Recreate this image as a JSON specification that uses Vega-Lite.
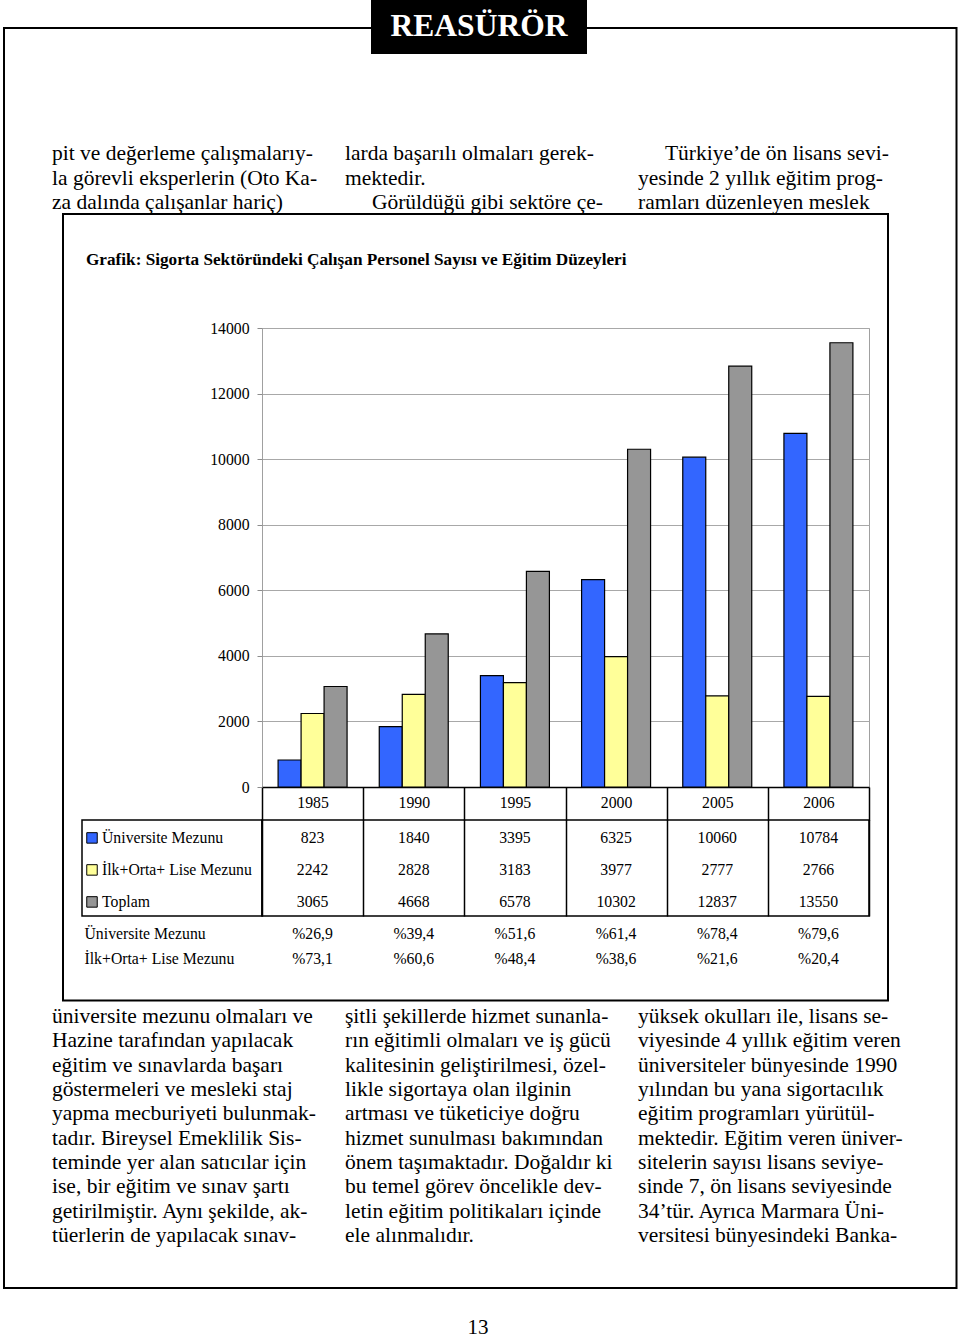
{
  "$schema": "https://vega.github.io/schema/vega-lite/v6.json",
  "padding": 0,
  "background": "white",
  "config": {
    "view": {"stroke": null},
    "font": "Liberation Serif",
    "axis": {"labelFont": "Liberation Serif", "labelColor": "black"}
  },
  "datasets": {
    "bars": [
      {"year": "1985", "series": "Üniversite Mezunu", "value": 823},
      {"year": "1990", "series": "Üniversite Mezunu", "value": 1840},
      {"year": "1995", "series": "Üniversite Mezunu", "value": 3395},
      {"year": "2000", "series": "Üniversite Mezunu", "value": 6325},
      {"year": "2005", "series": "Üniversite Mezunu", "value": 10060},
      {"year": "2006", "series": "Üniversite Mezunu", "value": 10784},
      {"year": "1985", "series": "İlk+Orta+ Lise Mezunu", "value": 2242},
      {"year": "1990", "series": "İlk+Orta+ Lise Mezunu", "value": 2828},
      {"year": "1995", "series": "İlk+Orta+ Lise Mezunu", "value": 3183},
      {"year": "2000", "series": "İlk+Orta+ Lise Mezunu", "value": 3977},
      {"year": "2005", "series": "İlk+Orta+ Lise Mezunu", "value": 2777},
      {"year": "2006", "series": "İlk+Orta+ Lise Mezunu", "value": 2766},
      {"year": "1985", "series": "Toplam", "value": 3065},
      {"year": "1990", "series": "Toplam", "value": 4668},
      {"year": "1995", "series": "Toplam", "value": 6578},
      {"year": "2000", "series": "Toplam", "value": 10302},
      {"year": "2005", "series": "Toplam", "value": 12837},
      {"year": "2006", "series": "Toplam", "value": 13550}
    ],
    "keys": [
      {"series": "Üniversite Mezunu"},
      {"series": "İlk+Orta+ Lise Mezunu"},
      {"series": "Toplam"}
    ],
    "pct": [
      {"year": "1985", "row": "Üniversite Mezunu", "pct": "%26,9"},
      {"year": "1990", "row": "Üniversite Mezunu", "pct": "%39,4"},
      {"year": "1995", "row": "Üniversite Mezunu", "pct": "%51,6"},
      {"year": "2000", "row": "Üniversite Mezunu", "pct": "%61,4"},
      {"year": "2005", "row": "Üniversite Mezunu", "pct": "%78,4"},
      {"year": "2006", "row": "Üniversite Mezunu", "pct": "%79,6"},
      {"year": "1985", "row": "İlk+Orta+ Lise Mezunu", "pct": "%73,1"},
      {"year": "1990", "row": "İlk+Orta+ Lise Mezunu", "pct": "%60,6"},
      {"year": "1995", "row": "İlk+Orta+ Lise Mezunu", "pct": "%48,4"},
      {"year": "2000", "row": "İlk+Orta+ Lise Mezunu", "pct": "%38,6"},
      {"year": "2005", "row": "İlk+Orta+ Lise Mezunu", "pct": "%21,6"},
      {"year": "2006", "row": "İlk+Orta+ Lise Mezunu", "pct": "%20,4"}
    ],
    "top": [
      {"col": 1, "line": 1, "text": "pit ve değerleme çalışmalarıy-"},
      {"col": 1, "line": 2, "text": "la görevli eksperlerin (Oto Ka-"},
      {"col": 1, "line": 3, "text": "za dalında çalışanlar hariç)"},
      {"col": 2, "line": 1, "text": "larda başarılı olmaları gerek-"},
      {"col": 2, "line": 2, "text": "mektedir."},
      {"col": 2, "line": 3, "text": "\u200b\u00a0\u00a0\u00a0\u00a0\u00a0Görüldüğü gibi sektöre çe-"},
      {"col": 3, "line": 1, "text": "\u200b\u00a0\u00a0\u00a0\u00a0\u00a0Türkiye’de ön lisans sevi-"},
      {"col": 3, "line": 2, "text": "yesinde 2 yıllık eğitim prog-"},
      {"col": 3, "line": 3, "text": "ramları düzenleyen meslek"}
    ],
    "bottom": [
      {"col": 1, "line": 1, "text": "üniversite mezunu olmaları ve"},
      {"col": 1, "line": 2, "text": "Hazine tarafından yapılacak"},
      {"col": 1, "line": 3, "text": "eğitim ve sınavlarda başarı"},
      {"col": 1, "line": 4, "text": "göstermeleri ve mesleki staj"},
      {"col": 1, "line": 5, "text": "yapma mecburiyeti bulunmak-"},
      {"col": 1, "line": 6, "text": "tadır. Bireysel Emeklilik Sis-"},
      {"col": 1, "line": 7, "text": "teminde yer alan satıcılar için"},
      {"col": 1, "line": 8, "text": "ise, bir eğitim ve sınav şartı"},
      {"col": 1, "line": 9, "text": "getirilmiştir. Aynı şekilde, ak-"},
      {"col": 1, "line": 10, "text": "tüerlerin de yapılacak sınav-"},
      {"col": 2, "line": 1, "text": "şitli şekillerde hizmet sunanla-"},
      {"col": 2, "line": 2, "text": "rın eğitimli olmaları ve iş gücü"},
      {"col": 2, "line": 3, "text": "kalitesinin geliştirilmesi, özel-"},
      {"col": 2, "line": 4, "text": "likle sigortaya olan ilginin"},
      {"col": 2, "line": 5, "text": "artması ve tüketiciye doğru"},
      {"col": 2, "line": 6, "text": "hizmet sunulması bakımından"},
      {"col": 2, "line": 7, "text": "önem taşımaktadır. Doğaldır ki"},
      {"col": 2, "line": 8, "text": "bu temel görev öncelikle dev-"},
      {"col": 2, "line": 9, "text": "letin eğitim politikaları içinde"},
      {"col": 2, "line": 10, "text": "ele alınmalıdır."},
      {"col": 3, "line": 1, "text": "yüksek okulları ile, lisans se-"},
      {"col": 3, "line": 2, "text": "viyesinde 4 yıllık eğitim veren"},
      {"col": 3, "line": 3, "text": "üniversiteler bünyesinde 1990"},
      {"col": 3, "line": 4, "text": "yılından bu yana sigortacılık"},
      {"col": 3, "line": 5, "text": "eğitim programları yürütül-"},
      {"col": 3, "line": 6, "text": "mektedir. Eğitim veren üniver-"},
      {"col": 3, "line": 7, "text": "sitelerin sayısı lisans seviye-"},
      {"col": 3, "line": 8, "text": "sinde 7, ön lisans seviyesinde"},
      {"col": 3, "line": 9, "text": "34’tür. Ayrıca Marmara Üni-"},
      {"col": 3, "line": 10, "text": "versitesi bünyesindeki Banka-"}
    ]
  },
  "spacing": 0,
  "bounds": "flush",
  "vconcat": [
    {
      "spacing": 0, "bounds": "flush",
      "hconcat": [
        {"width": 3.5, "height": 1, "mark": "text", "data": {"values": []}},
        {"spacing": 0, "bounds": "flush", "vconcat": [
          {"width": 1, "height": 28, "mark": "text", "data": {"values": []}},
          {"width": 952.5, "height": 1260, "mark": "text", "data": {"values": []},
           "view": {"stroke": "black", "strokeWidth": 2}}
        ]}
      ]
    },
    {
      "spacing": 0, "bounds": "flush",
      "hconcat": [
        {"width": 371, "height": 1, "mark": "text", "data": {"values": []}},
        {"width": 216, "height": 54, "view": {"fill": "black", "stroke": null},
         "data": {"values": [{"label": "REASÜRÖR"}]},
         "mark": {"type": "text", "font": "Liberation Serif", "fontSize": 31.5, "fontWeight": "bold", "color": "white", "baseline": "middle", "align": "center"},
         "encoding": {"text": {"field": "label", "type": "nominal"}}}
      ]
    },
    {
      "spacing": 0, "bounds": "flush",
      "hconcat": [
        {"width": 52, "height": 1, "mark": "text", "data": {"values": []}},
        {"spacing": 0, "bounds": "flush", "vconcat": [
          {"width": 1, "height": 142, "mark": "text", "data": {"values": []}},
          {"width": 852, "height": 73.5, "data": {"name": "top"},
           "mark": {"type": "text", "align": "left", "baseline": "middle", "font": "Liberation Serif", "fontSize": 21.5, "color": "black"},
           "encoding": {
             "x": {"field": "col", "type": "ordinal", "bandPosition": 0, "scale": {"type": "band", "paddingInner": 0.0922, "paddingOuter": 0}, "axis": null},
             "y": {"field": "line", "type": "ordinal", "scale": {"type": "band", "paddingInner": 0, "paddingOuter": 0}, "axis": null},
             "text": {"field": "text", "type": "nominal"}
           }}
        ]}
      ]
    },
    {
      "spacing": 0, "bounds": "flush",
      "hconcat": [
        {"width": 63, "height": 1, "mark": "text", "data": {"values": []}},
        {"spacing": 0, "bounds": "flush", "vconcat": [
          {"width": 1, "height": 213.5, "mark": "text", "data": {"values": []}},
          {"width": 825, "height": 786.5, "mark": "text", "data": {"values": []},
           "view": {"stroke": "black", "strokeWidth": 2}}
        ]}
      ]
    },
    {
      "spacing": 0, "bounds": "flush",
      "hconcat": [
        {"width": 262, "height": 1, "mark": "text", "data": {"values": []}},
        {"spacing": 0, "bounds": "flush", "vconcat": [
          {"width": 1, "height": 327.5, "mark": "text", "data": {"values": []}},
          {"width": 607, "height": 459, "data": {"name": "bars"},
           "view": {"stroke": "#a0a0a0", "strokeWidth": 1},
           "title": {"text": "Grafik: Sigorta Sektöründeki Çalışan Personel Sayısı ve Eğitim Düzeyleri", "anchor": "start", "frame": "group", "dx": -176, "offset": 52, "font": "Liberation Serif", "fontSize": 17.2, "fontWeight": "bold", "color": "black"},
           "mark": {"type": "bar", "stroke": "black", "strokeWidth": 1.2},
           "encoding": {
             "x": {"field": "year", "type": "ordinal", "title": null,
                   "scale": {"type": "band", "paddingInner": 0, "paddingOuter": 0},
                   "axis": {"orient": "bottom", "labelAngle": 0, "domainColor": "black", "domainWidth": 1.5, "tickBand": "extent", "tickColor": "black", "tickWidth": 1.5, "tickSize": 33.5, "labelPadding": -18, "labelBaseline": "middle", "labelFont": "Liberation Serif", "labelFontSize": 15.75, "labelColor": "black", "grid": false}},
             "xOffset": {"field": "series", "type": "nominal", "sort": ["Üniversite Mezunu", "İlk+Orta+ Lise Mezunu", "Toplam"], "scale": {"paddingInner": 0, "paddingOuter": 0.7}},
             "y": {"field": "value", "type": "quantitative", "title": null,
                   "scale": {"domain": [0, 14000], "nice": false},
                   "axis": {"values": [0, 2000, 4000, 6000, 8000, 10000, 12000, 14000], "format": "d", "domain": false, "grid": true, "gridColor": "#a8a8a8", "gridWidth": 1, "tickColor": "#8c8c8c", "tickSize": 5, "labelPadding": 8, "labelFont": "Liberation Serif", "labelFontSize": 15.75, "labelColor": "black"}},
             "fill": {"field": "series", "type": "nominal", "sort": ["Üniversite Mezunu", "İlk+Orta+ Lise Mezunu", "Toplam"],
                      "scale": {"domain": ["Üniversite Mezunu", "İlk+Orta+ Lise Mezunu", "Toplam"], "range": ["#3366ff", "#ffff99", "#969696"]}, "legend": null}
           }}
        ]}
      ]
    },
    {
      "spacing": 0, "bounds": "flush",
      "hconcat": [
        {"width": 82, "height": 1, "mark": "text", "data": {"values": []}},
        {"spacing": 0, "bounds": "flush", "vconcat": [
          {"width": 1, "height": 820, "mark": "text", "data": {"values": []}},
          {"width": 180, "height": 96, "mark": "text", "data": {"values": []},
           "view": {"stroke": "black", "strokeWidth": 1.5}}
        ]}
      ]
    },
    {
      "spacing": 0, "bounds": "flush",
      "hconcat": [
        {"width": 82, "height": 1, "mark": "text", "data": {"values": []}},
        {"spacing": 0, "bounds": "flush", "vconcat": [
          {"width": 1, "height": 820, "mark": "text", "data": {"values": []}},
          {"width": 30, "height": 96, "data": {"name": "keys"},
           "encoding": {
             "y": {"field": "series", "type": "nominal", "sort": ["Üniversite Mezunu", "İlk+Orta+ Lise Mezunu", "Toplam"],
                   "scale": {"type": "band", "paddingInner": 0, "paddingOuter": 0}, "axis": null}
           },
           "layer": [
             {"mark": {"type": "point", "shape": "square", "size": 110, "filled": true, "opacity": 1, "stroke": "black", "strokeWidth": 1},
              "encoding": {
                "x": {"datum": "key", "type": "nominal", "scale": {"type": "point", "domain": ["key", "name"], "padding": 1}, "axis": null},
                "y": {"field": "series", "type": "nominal", "bandPosition": 0.56, "sort": ["Üniversite Mezunu", "İlk+Orta+ Lise Mezunu", "Toplam"]},
                "fill": {"field": "series", "type": "nominal", "sort": ["Üniversite Mezunu", "İlk+Orta+ Lise Mezunu", "Toplam"],
                         "scale": {"domain": ["Üniversite Mezunu", "İlk+Orta+ Lise Mezunu", "Toplam"], "range": ["#3366ff", "#ffff99", "#969696"]}, "legend": null}
              }},
             {"mark": {"type": "text", "font": "Liberation Serif", "fontSize": 15.75, "color": "black", "align": "left", "baseline": "middle", "dy": 1.5},
              "encoding": {
                "x": {"datum": "name", "type": "nominal"},
                "text": {"field": "series", "type": "nominal"}
              }}
           ]}
        ]}
      ]
    },
    {
      "spacing": 0, "bounds": "flush",
      "hconcat": [
        {"width": 262, "height": 1, "mark": "text", "data": {"values": []}},
        {"spacing": 0, "bounds": "flush", "vconcat": [
          {"width": 1, "height": 820, "mark": "text", "data": {"values": []}},
          {"width": 607, "height": 96, "data": {"name": "bars"},
           "view": {"stroke": "black", "strokeWidth": 1.5},
           "mark": {"type": "text", "font": "Liberation Serif", "fontSize": 15.75, "color": "black", "baseline": "middle", "dy": 1.5},
           "encoding": {
             "x": {"field": "year", "type": "ordinal", "title": null,
                   "scale": {"type": "band", "paddingInner": 0, "paddingOuter": 0},
                   "axis": {"orient": "top", "grid": true, "gridColor": "black", "gridWidth": 1.5, "tickBand": "extent", "domain": false, "ticks": false, "labels": false, "title": null}},
             "y": {"field": "series", "type": "nominal", "sort": ["Üniversite Mezunu", "İlk+Orta+ Lise Mezunu", "Toplam"],
                   "scale": {"type": "band", "paddingInner": 0, "paddingOuter": 0}, "axis": null},
             "text": {"field": "value", "type": "quantitative", "format": "d"}
           }}
        ]}
      ]
    },
    {
      "spacing": 0, "bounds": "flush",
      "hconcat": [
        {"width": 262, "height": 1, "mark": "text", "data": {"values": []}},
        {"spacing": 0, "bounds": "flush", "vconcat": [
          {"width": 1, "height": 921, "mark": "text", "data": {"values": []}},
          {"width": 607, "height": 50, "data": {"name": "pct"},
           "mark": {"type": "text", "font": "Liberation Serif", "fontSize": 15.75, "color": "black", "baseline": "middle"},
           "encoding": {
             "x": {"field": "year", "type": "ordinal", "scale": {"type": "band", "paddingInner": 0, "paddingOuter": 0}, "axis": null},
             "y": {"field": "row", "type": "nominal", "sort": ["Üniversite Mezunu", "İlk+Orta+ Lise Mezunu"],
                   "scale": {"type": "band", "paddingInner": 0, "paddingOuter": 0},
                   "axis": {"title": null, "domain": false, "ticks": false, "labelAlign": "left", "labelPadding": 178, "labelFont": "Liberation Serif", "labelFontSize": 15.75, "labelColor": "black", "labelLimit": 300}},
             "text": {"field": "pct", "type": "nominal"}
           }}
        ]}
      ]
    },
    {
      "spacing": 0, "bounds": "flush",
      "hconcat": [
        {"width": 52, "height": 1, "mark": "text", "data": {"values": []}},
        {"spacing": 0, "bounds": "flush", "vconcat": [
          {"width": 1, "height": 1004.5, "mark": "text", "data": {"values": []}},
          {"width": 852, "height": 243.3, "data": {"name": "bottom"},
           "mark": {"type": "text", "align": "left", "baseline": "middle", "font": "Liberation Serif", "fontSize": 21.5, "color": "black"},
           "encoding": {
             "x": {"field": "col", "type": "ordinal", "bandPosition": 0, "scale": {"type": "band", "paddingInner": 0.0922, "paddingOuter": 0}, "axis": null},
             "y": {"field": "line", "type": "ordinal", "scale": {"type": "band", "paddingInner": 0, "paddingOuter": 0}, "axis": null},
             "text": {"field": "text", "type": "nominal"}
           }}
        ]}
      ]
    },
    {
      "spacing": 0, "bounds": "flush",
      "hconcat": [
        {"width": 458, "height": 1, "mark": "text", "data": {"values": []}},
        {"spacing": 0, "bounds": "flush", "vconcat": [
          {"width": 1, "height": 1316, "mark": "text", "data": {"values": []}},
          {"width": 40, "height": 24, "data": {"values": [{"label": "13"}]},
           "mark": {"type": "text", "font": "Liberation Serif", "fontSize": 21, "color": "black", "baseline": "middle", "align": "center"},
           "encoding": {"text": {"field": "label", "type": "nominal"}}}
        ]}
      ]
    }
  ]
}
